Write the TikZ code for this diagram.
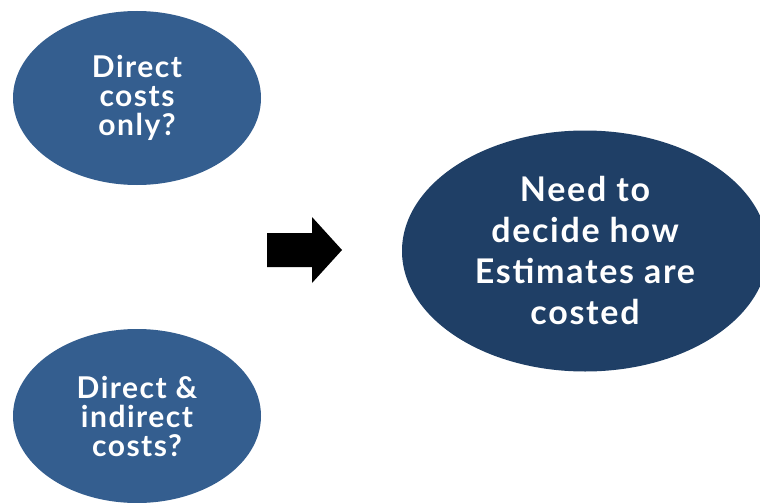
\documentclass[tikz,border=0pt]{standalone}
\usepackage{fontspec}
\setmainfont{Lato}
\newfontfamily\widelato[LetterSpace=5]{Lato}
\usepackage{tikz}
\usetikzlibrary{shapes.geometric}

\definecolor{optblue}{RGB}{52,94,143}
\definecolor{needblue}{RGB}{31,63,102}

\tikzset{
  option/.style={ellipse, fill=optblue, text=white, inner sep=0pt,
    minimum width=248pt, minimum height=174pt, align=center,
    font=\widelato\bfseries\fontsize{30}{29}\selectfont},
  need/.style={ellipse, fill=needblue, text=white, inner sep=0pt,
    minimum width=366pt, minimum height=241pt, align=center,
    font=\widelato\bfseries\fontsize{34}{41}\selectfont}
}

\begin{document}
\begin{tikzpicture}[x=1pt,y=-1pt]
            \useasboundingbox (0,0) rectangle (760,503);

            \node[option] (direct) at (137,98) {Direct\\costs\\only?};
            \node[option] (indirect) at (137,416) {Direct \&\\indirect\\costs?};
            \node[need] (decide) at (585,251) {Need to\\decide how\\Estimates are\\costed};

            % block arrow
            \fill[black] (267,233) -- (312,233) -- (312,217) -- (342,250) -- (312,283) -- (312,267) -- (267,267) -- cycle;
\end{tikzpicture}
\end{document}
